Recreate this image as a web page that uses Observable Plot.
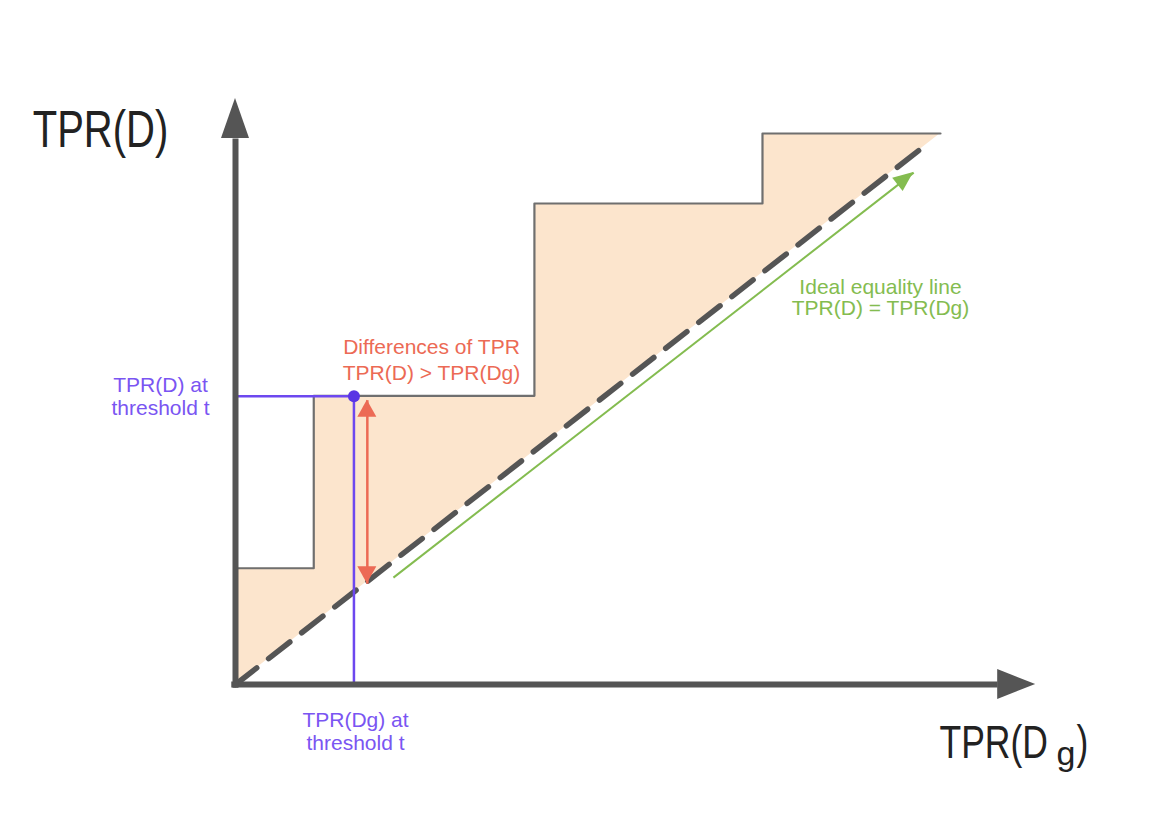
<!DOCTYPE html>
<html><head><meta charset="utf-8">
<script src="https://cdn.jsdelivr.net/npm/d3@7"></script>
<script src="https://cdn.jsdelivr.net/npm/@observablehq/plot@0.6"></script>
<style>html,body{margin:0;padding:0;background:#fff;}</style>
</head><body><div id="chart"></div>
<script>
// Step curve TPR(D) as a function of TPR(Dg)
const stepX = [0, 0.111, 0.424, 0.7475, 1.0];
const stepY = [0.211, 0.524, 0.873, 1.0, 1.0];
// Ideal equality line (dashed)
const diagonal = [{x: 0, y: 0}, {x: 0.979, y: 0.979}];
// Threshold point
const threshold = [{x: 0.168, y: 0.523}];
// Axes (shafts and head tips)
const axisLines = [{x1: -0.006, y1: 0, x2: 1.081, y2: 0}, {x1: 0, y1: -0.006, x2: 0, y2: 0.991}];
const axisHeads = [
  {x: 1.135, y: 0, fromX: 1.0, fromY: 0, len: 38, w: 30, fill: "#555"},
  {x: 0, y: 1.0635, fromX: 0, fromY: 0.9, len: 40, w: 28, fill: "#555"}
];
// Green arrow along the equality line
const greenArrow = [{x1: 0.224, y1: 0.194, x2: 0.962, y2: 0.929}];
// Red double arrow showing the difference
const redArrow = [{x1: 0.187, y1: 0.183, x2: 0.187, y2: 0.516}];
// Texts
const labelsPurple = [
  {x: -0.1064, y: 0.5227, text: "TPR(D) at\nthreshold t"},
  {x: 0.1702, y: -0.0853, text: "TPR(Dg) at\nthreshold t"}
];
const labelRed = [{x: 0.278, y: 0.5907, text: "Differences of TPR\nTPR(D) > TPR(Dg)"}];
const labelGreen = [{x: 0.9149, y: 0.7015, text: "Ideal equality line\nTPR(D) = TPR(Dg)"}];
const titleY = [{x: -0.1915, y: 0.9746, text: "TPR(D)"}];
const titleX = [{x: 0.9986, y: -0.1343, text: "TPR(D"}, {x: 1.1929, y: -0.1343, text: ")"}];
const titleXSub = [{x: 1.1645, y: -0.147, text: "g"}];

const stepPts = stepX.map((x, i) => ({x, y: stepY[i]}));
const fillPts = [];
for (let i = 0; i < stepX.length - 1; i++) {
  fillPts.push({x: stepX[i], y1: stepX[i], y2: stepY[i]});
  fillPts.push({x: stepX[i + 1], y1: stepX[i + 1], y2: stepY[i]});
}

const purple = "#6d48ef", purpleText = "#7a55f2", red = "#ec6a55", green = "#84bc50";

const redHeads = redArrow.flatMap(d => [
  {x: d.x2, y: d.y2, fromX: d.x1, fromY: d.y1, len: 17, w: 19, fill: red},
  {x: d.x1, y: d.y1, fromX: d.x2, fromY: d.y2, len: 17, w: 19, fill: red}
]);
const greenHeads = greenArrow.map(d => ({x: d.x2, y: d.y2, fromX: d.x1, fromY: d.y1, len: 20, w: 17, fill: green}));

function heads(data) {
  return (index, scales) => {
    const g = d3.create("svg:g");
    for (const d of data) {
      const tx = scales.x(d.x), ty = scales.y(d.y);
      const fx = scales.x(d.fromX), fy = scales.y(d.fromY);
      let ux = tx - fx, uy = ty - fy;
      const L = Math.hypot(ux, uy); ux /= L; uy /= L;
      const bx = tx - ux * d.len, by = ty - uy * d.len;
      const nx = -uy * d.w / 2, ny = ux * d.w / 2;
      g.append("path")
        .attr("d", `M${tx},${ty}L${bx + nx},${by + ny}L${bx - nx},${by - ny}Z`)
        .attr("fill", d.fill);
    }
    return g.node();
  };
}

const font = "Liberation Sans, Arial, Helvetica, sans-serif";

const chart = Plot.plot({
  width: 1166,
  height: 834,
  margin: 0,
  x: {domain: [0, 1], range: [235, 940], axis: null},
  y: {domain: [0, 1], range: [684, 133], axis: null},
  style: {background: "#fff", fontFamily: font},
  marks: [
    Plot.areaY(fillPts, {x: "x", y1: "y1", y2: "y2", fill: "#fce5cd"}),
    Plot.line(stepPts, {x: "x", y: "y", curve: "step-after", stroke: "#6f6f6f", strokeWidth: 2.2}),
    Plot.line(diagonal, {x: "x", y: "y", stroke: "#555", strokeWidth: 5.5, strokeDasharray: "27,15"}),
    Plot.link(greenArrow, {x1: "x1", y1: "y1", x2: "x2", y2: "y2", stroke: green, strokeWidth: 2}),
    heads(greenHeads),
    Plot.link(threshold, {x1: 0, y1: "y", x2: "x", y2: "y", stroke: purple, strokeWidth: 2.5}),
    Plot.link(threshold, {x1: "x", y1: "y", x2: "x", y2: 0, stroke: purple, strokeWidth: 2.5}),
    Plot.link(redArrow, {x1: "x1", y1: "y1", x2: "x2", y2: "y2", stroke: red, strokeWidth: 2.5}),
    heads(redHeads),
    Plot.dot(threshold, {x: "x", y: "y", r: 6, fill: "#5a35e4"}),
    Plot.link(axisLines, {x1: "x1", y1: "y1", x2: "x2", y2: "y2", stroke: "#555", strokeWidth: 6}),
    heads(axisHeads),
    Plot.text(labelsPurple, {x: "x", y: "y", text: "text", fill: purpleText, fontSize: 21, lineHeight: 1.1, textAnchor: "middle", lineAnchor: "middle"}),
    Plot.text(labelRed, {x: "x", y: "y", text: "text", fill: red, fontSize: 21, lineHeight: 1.2, textAnchor: "middle", lineAnchor: "middle"}),
    Plot.text(labelGreen, {x: "x", y: "y", text: "text", fill: green, fontSize: 21, lineHeight: 1.0, textAnchor: "middle", lineAnchor: "middle"}),
    Plot.text(titleY, {x: "x", y: "y", text: "text", fill: "#222", fontSize: 40, textAnchor: "middle", lineAnchor: "bottom"}),
    Plot.text(titleX, {x: "x", y: "y", text: "text", fill: "#222", fontSize: 35.5, textAnchor: "start", lineAnchor: "bottom"}),
    Plot.text(titleXSub, {x: "x", y: "y", text: "text", fill: "#222", fontSize: 34, textAnchor: "start", lineAnchor: "bottom"})
  ]
});

// vertical stretch of the large axis titles (tall glyphs in the original)
const stretchTexts = new Set([...titleY, ...titleX].map(d => d.text));
chart.querySelectorAll("text").forEach(t => {
  if (!stretchTexts.has(t.textContent)) return;
  const tr = t.getAttribute("transform") || "";
  const x = parseFloat(t.getAttribute("x")) || 0;
  const y = parseFloat(t.getAttribute("y")) || 0;
  t.setAttribute("transform", `${tr} translate(${x},${y}) scale(1,1.3) translate(${-x},${-y})`);
});

document.getElementById("chart").appendChild(chart);
</script>
</body></html>
